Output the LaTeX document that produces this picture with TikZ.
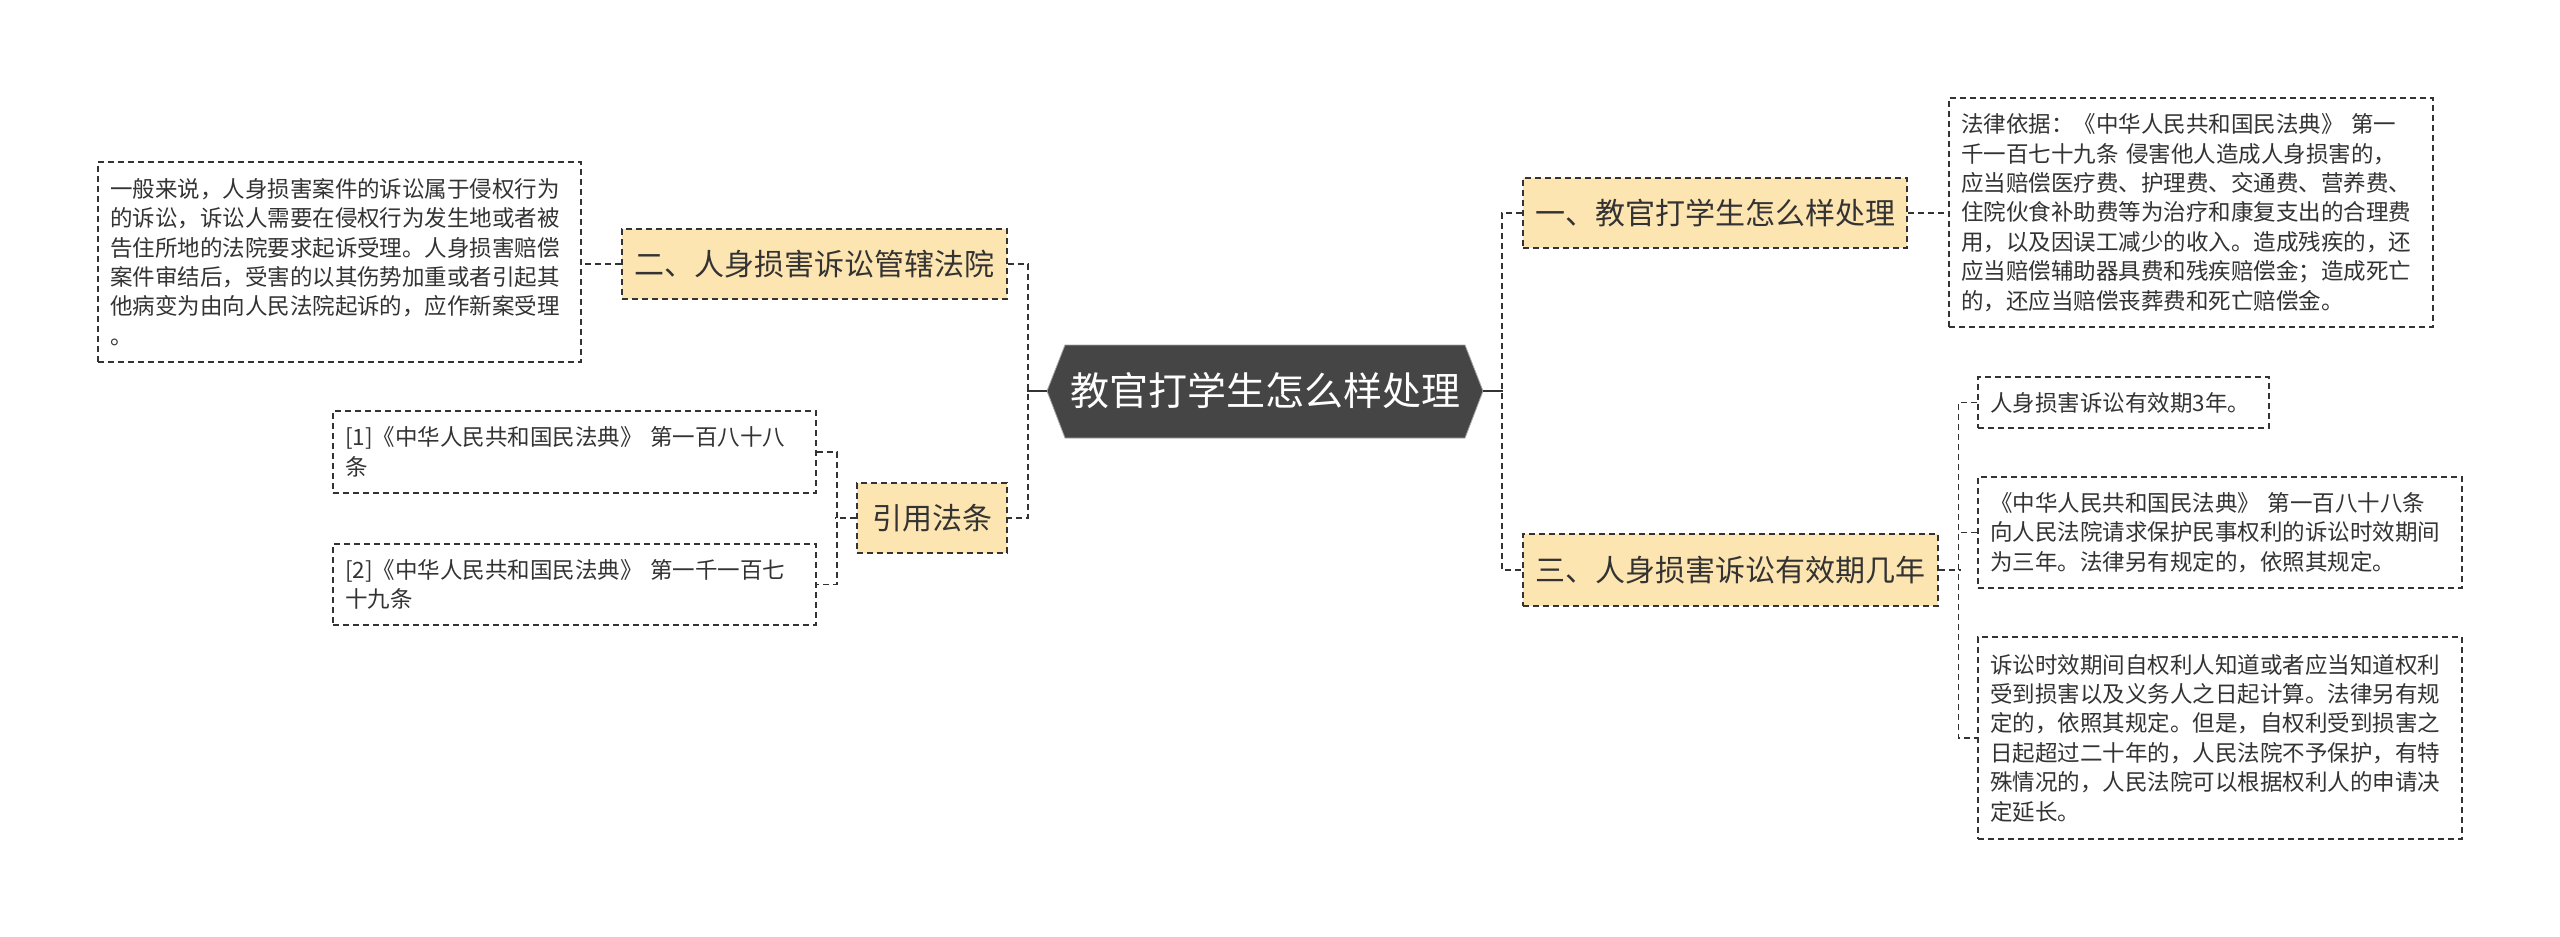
\documentclass[tikz,border=0pt]{standalone}
\usepackage{fontspec}
\newfontfamily\cjk{Noto Sans CJK SC}
\definecolor{branchfill}{HTML}{FDE5B1}
\definecolor{rootfill}{HTML}{454545}
\definecolor{linec}{HTML}{333333}
\definecolor{textc}{HTML}{333333}
\tikzset{
  conn/.style={draw=linec, line width=1.6pt, dash pattern=on 6pt off 4pt},
  solidconn/.style={draw=linec, line width=1.8pt},
  branch/.style={fill=branchfill, draw=linec, line width=1.6pt, dash pattern=on 6pt off 4pt,
    inner sep=0pt, align=center, text=textc, font=\cjk\fontsize{30}{36}\selectfont},
  tbox/.style={draw=linec, line width=1.4pt, dash pattern=on 6pt off 4pt, fill=white,
    inner xsep=12pt, inner ysep=0pt, align=left, text=textc,
    font=\cjk\fontsize{22.5}{29.4}\selectfont},
}
\begin{document}
\begin{tikzpicture}[x=1pt,y=-1pt]
\useasboundingbox (0,0) rectangle (2560,937);
\fill[white] (0,0) rectangle (2560,937);
% root
\fill[rootfill] (1047,391) -- (1065,345) -- (1465,345) -- (1483,391) -- (1465,438) -- (1065,438) -- cycle;
\draw[gray!70, line width=0.8pt] (1047,391) -- (1065,345) -- (1465,345) -- (1483,391) -- (1465,438) -- (1065,438) -- cycle;
\node[minimum width=436pt, minimum height=93pt, inner sep=0pt, text=white, font=\cjk\fontsize{39}{46}\selectfont] (root) at (1265,391) {教官打学生怎么样处理};
% branches
\node[branch, minimum width=384pt, minimum height=70pt] (b1) at (1715,213) {一、教官打学生怎么样处理};
\node[branch, minimum width=415pt, minimum height=72pt] (b3) at (1730.5,570) {三、人身损害诉讼有效期几年};
\node[branch, minimum width=385pt, minimum height=70pt] (b2) at (814.5,264) {二、人身损害诉讼管辖法院};
\node[branch, minimum width=150pt, minimum height=70pt] (b4) at (932,518) {引用法条};
% text boxes
\node[tbox, text width=460pt, minimum height=229pt] (t1) at (2191,212.5) {法律依据：《中华人民共和国民法典》 第一\\千一百七十九条 侵害他人造成人身损害的，\\应当赔偿医疗费、护理费、交通费、营养费、\\住院伙食补助费等为治疗和康复支出的合理费\\用，以及因误工减少的收入。造成残疾的，还\\应当赔偿辅助器具费和残疾赔偿金；造成死亡\\的，还应当赔偿丧葬费和死亡赔偿金。};
\node[tbox, text width=459pt, minimum height=200pt] (t2) at (339.5,262) {一般来说，人身损害案件的诉讼属于侵权行为\\的诉讼，诉讼人需要在侵权行为发生地或者被\\告住所地的法院要求起诉受理。人身损害赔偿\\案件审结后，受害的以其伤势加重或者引起其\\他病变为由向人民法院起诉的，应作新案受理\\。};
\node[tbox, text width=459pt, minimum height=82pt] (r1) at (574.5,452) {[1]《中华人民共和国民法典》 第一百八十八\\条};
\node[tbox, text width=459pt, minimum height=81pt] (r2) at (574.5,584.5) {[2]《中华人民共和国民法典》 第一千一百七\\十九条};
\node[tbox, text width=267pt, minimum height=51pt] (t3a) at (2123.5,402.5) {人身损害诉讼有效期3年。};
\node[tbox, text width=460pt, minimum height=111pt] (t3b) at (2220,532.5) {《中华人民共和国民法典》 第一百八十八条\\向人民法院请求保护民事权利的诉讼时效期间\\为三年。法律另有规定的，依照其规定。};
\node[tbox, text width=460pt, minimum height=202pt] (t3c) at (2220,738) {诉讼时效期间自权利人知道或者应当知道权利\\受到损害以及义务人之日起计算。法律另有规\\定的，依照其规定。但是，自权利受到损害之\\日起超过二十年的，人民法院不予保护，有特\\殊情况的，人民法院可以根据权利人的申请决\\定延长。};
% connectors: root right
\draw[solidconn] (root.east) -- ++(20,0);
\draw[conn] (b1.west) -- ++(-20,0) |- (b3.west);
% root left
\draw[solidconn] (root.west) -- ++(-20,0);
\draw[conn] (b2.east) -- ++(20,0) |- (b4.east);
% branch to texts
\draw[conn] (b1.east) -- (b1.east -| t1.west);
\draw[conn] (b2.west) -- (b2.west -| t2.east);
\draw[conn] (b3.east) -- ++(22,0);
\draw[conn] (t3a.west) -- ++(-19,0) |- (t3c.west);
\draw[conn] (t3b.west) -- ++(-19,0);
\draw[conn] (b4.west) -- ++(-21,0);
\draw[conn] (r1.east) -- ++(20,0) |- (r2.east);
\end{tikzpicture}
\end{document}
